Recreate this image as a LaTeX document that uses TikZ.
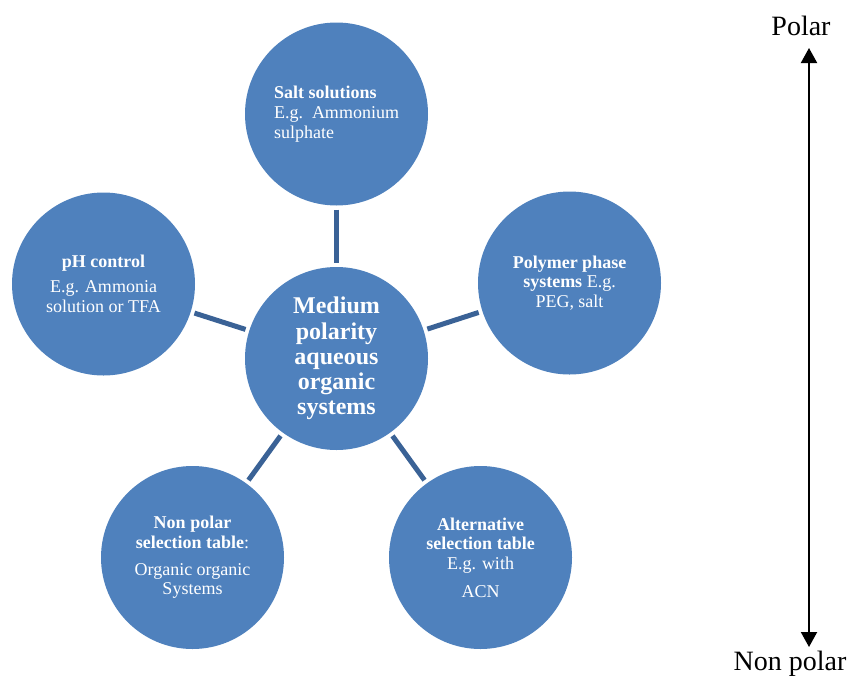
\documentclass[tikz,border=0pt]{standalone}
\usepackage{fontspec}
\setmainfont{Liberation Serif}
\usetikzlibrary{arrows.meta}
\definecolor{bubble}{HTML}{4F81BD}
\definecolor{link}{HTML}{3A6296}
\tikzset{
  bubble/.style={circle, fill=bubble, minimum size=183pt, inner sep=0pt, outer sep=0pt,
    text=white, align=center, font=\fontsize{18}{19.7}\selectfont},
  hub/.style={bubble, font=\fontsize{24}{25.2}\selectfont\bfseries},
  linkline/.style={draw=link, line width=5pt, shorten <=4pt, shorten >=4pt},
  axislabel/.style={font=\fontsize{28}{30}\selectfont, inner sep=0pt},
  axisarrow/.style={line width=2pt, {Triangle[width=16pt,length=15pt]}-{Triangle[width=16pt,length=15pt]}}
}
\begin{document}
\begin{tikzpicture}[x=1pt,y=-1pt]
\useasboundingbox (0,0) rectangle (851,675);
\node[hub] (hub) at (336.5,358.5) {Medium\\polarity\\aqueous\\organic\\systems};
\node[bubble, align=left] (salt) at (336.5,114) {\textbf{Salt solutions}\\E.g.\ \ Ammonium\\sulphate};
\node[bubble] (ph) at (103.5,284) {\textbf{pH control}\\[5pt]E.g. Ammonia\\solution or TFA};
\node[bubble] (poly) at (569.5,283) {\textbf{Polymer phase}\\\textbf{systems} E.g.\\PEG, salt};
\node[bubble] (nonpolar) at (192.5,557.5) {\textbf{Non polar}\\\textbf{selection table}:\\[7pt]Organic organic\\Systems};
\node[bubble] (alt) at (480.5,557.5) {\textbf{Alternative}\\\textbf{selection table}\\E.g. with\\[8pt]ACN};
\draw[linkline] (salt) -- (hub);
\draw[linkline] (ph) -- (hub);
\draw[linkline] (poly) -- (hub);
\draw[linkline] (nonpolar) -- (hub);
\draw[linkline] (alt) -- (hub);
\node[axislabel, anchor=base] (polar) at (801,35) {Polar};
\node[axislabel, anchor=base] (nonpol) at (790,670) {Non polar};
\coordinate (top) at (809,48);
\coordinate (bot) at (809,647);
\draw[axisarrow] (bot) -- (top);
\end{tikzpicture}
\end{document}
